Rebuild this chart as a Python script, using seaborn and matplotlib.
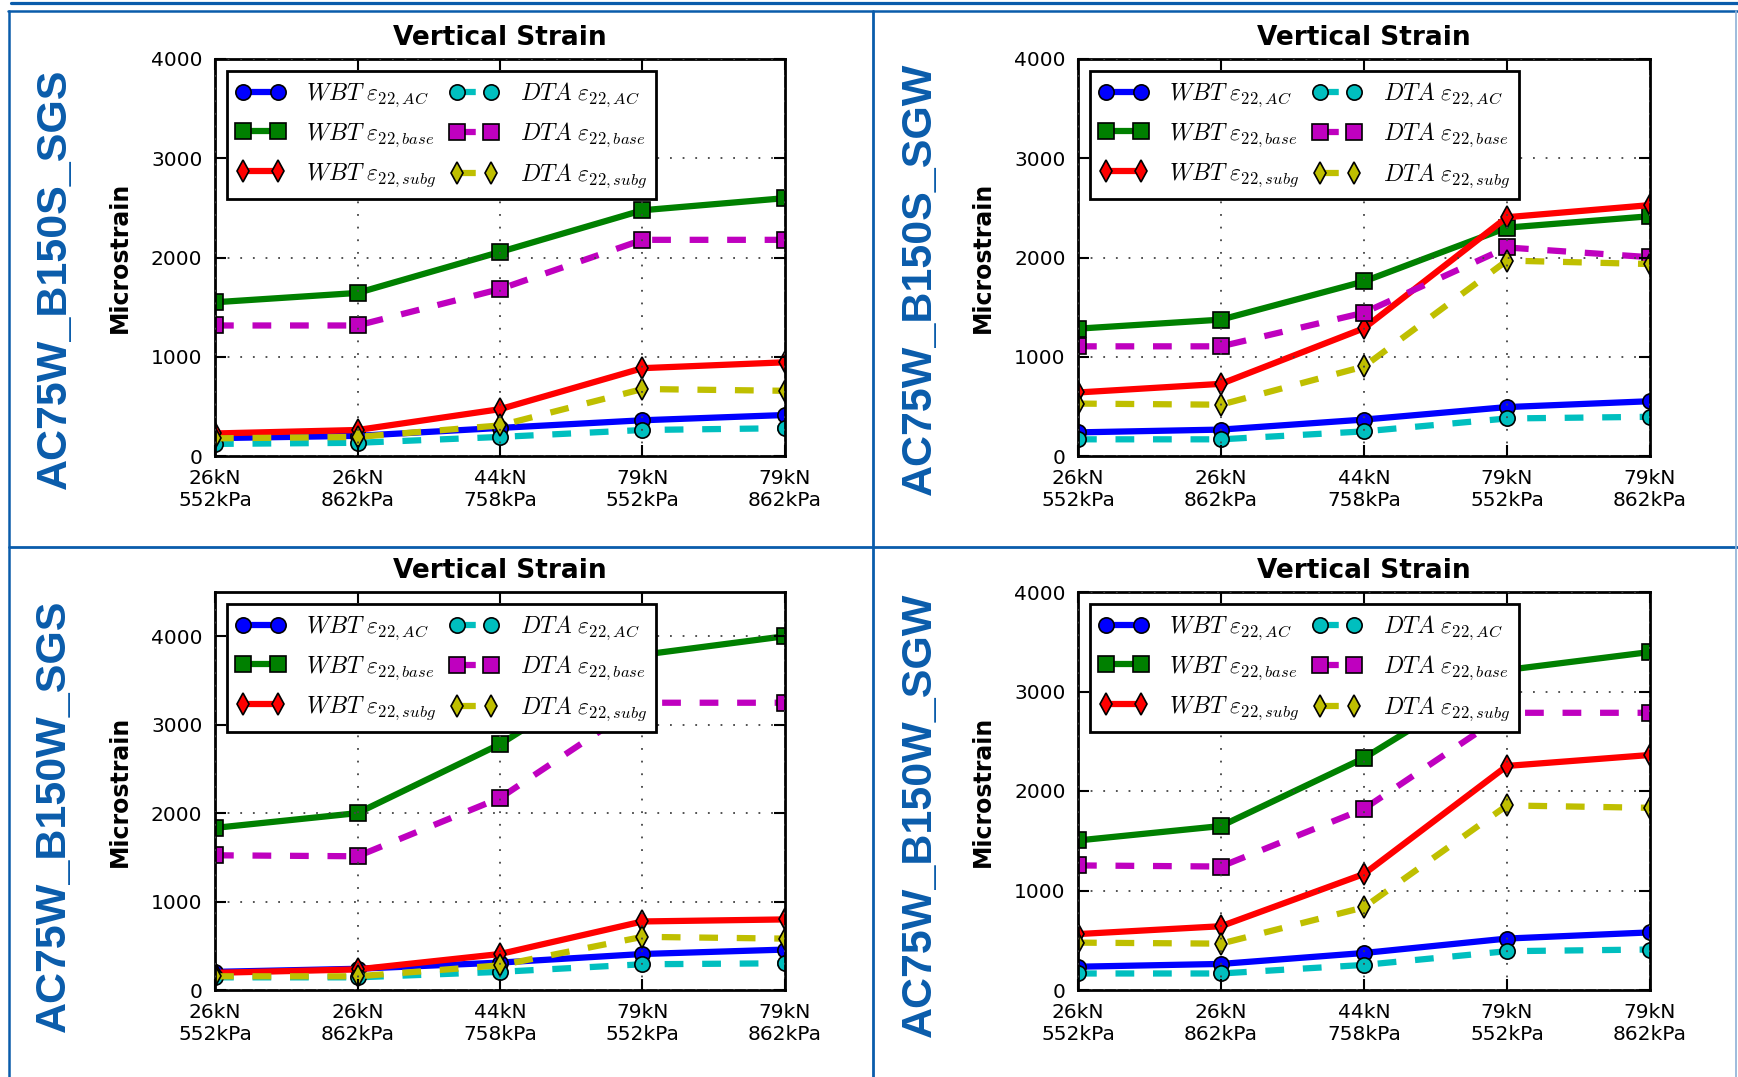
import numpy as np
import pandas as pd
import seaborn as sns
import matplotlib.pyplot as plt
from matplotlib.lines import Line2D

sns.set_style("ticks")
plt.rcParams['font.family'] = ['DejaVu Sans']
plt.rcParams['mathtext.fontset'] = 'cm'
plt.rcParams['text.color'] = 'black'
plt.rcParams['axes.labelcolor'] = 'black'
plt.rcParams['xtick.color'] = 'black'
plt.rcParams['ytick.color'] = 'black'

# load cases on the x axis
loads = ["26kN\n552kPa", "26kN\n862kPa", "44kN\n758kPa", "79kN\n552kPa", "79kN\n862kPa"]

# AC75W_B150S_SGS
s150_sgs_wbt_ac = [180, 203, 283, 360, 413]
s150_sgs_wbt_base = [1549, 1643, 2056, 2476, 2598]
s150_sgs_wbt_subg = [227, 262, 472, 885, 944]
s150_sgs_dta_ac = [122, 133, 192, 262, 280]
s150_sgs_dta_base = [1315, 1315, 1682, 2178, 2178]
s150_sgs_dta_subg = [178, 192, 308, 675, 657]

# AC75W_B150S_SGW
s150_sgw_wbt_ac = [238, 266, 367, 493, 552]
s150_sgw_wbt_base = [1283, 1374, 1759, 2301, 2416]
s150_sgw_wbt_subg = [640, 727, 1287, 2406, 2528]
s150_sgw_dta_ac = [168, 168, 248, 378, 395]
s150_sgw_dta_base = [1105, 1105, 1444, 2101, 2003]
s150_sgw_dta_subg = [528, 517, 902, 1969, 1934]

# AC75W_B150W_SGS
w150_sgs_wbt_ac = [205, 240, 310, 407, 457]
w150_sgs_wbt_base = [1833, 2000, 2779, 3790, 4000]
w150_sgs_wbt_subg = [194, 233, 407, 775, 798]
w150_sgs_dta_ac = [143, 143, 205, 291, 302]
w150_sgs_dta_base = [1523, 1512, 2171, 3248, 3248]
w150_sgs_dta_subg = [155, 155, 279, 601, 581]

# AC75W_B150W_SGW
w150_sgw_wbt_ac = [234, 262, 372, 517, 579]
w150_sgw_wbt_base = [1503, 1648, 2331, 3217, 3397]
w150_sgw_wbt_subg = [562, 641, 1166, 2252, 2362]
w150_sgw_dta_ac = [166, 166, 252, 390, 407]
w150_sgw_dta_base = [1252, 1241, 1821, 2786, 2786]
w150_sgw_dta_subg = [476, 466, 831, 1855, 1831]

labels = [r'$WBT\ \varepsilon_{22,AC}$', r'$WBT\ \varepsilon_{22,base}$', r'$WBT\ \varepsilon_{22,subg}$',
          r'$DTA\ \varepsilon_{22,AC}$', r'$DTA\ \varepsilon_{22,base}$', r'$DTA\ \varepsilon_{22,subg}$']
colors = ['b', 'g', 'r', 'c', 'm', 'y']
markers = ['o', 's', 'd', 'o', 's', 'd']
styles = ['-', '-', '-', (0, (3.0, 3.0)), (0, (3.0, 3.0)), (0, (3.0, 3.0))]

panels = [
    ("AC75W_B150S_SGS", [s150_sgs_wbt_ac, s150_sgs_wbt_base, s150_sgs_wbt_subg,
                         s150_sgs_dta_ac, s150_sgs_dta_base, s150_sgs_dta_subg], 4000),
    ("AC75W_B150S_SGW", [s150_sgw_wbt_ac, s150_sgw_wbt_base, s150_sgw_wbt_subg,
                         s150_sgw_dta_ac, s150_sgw_dta_base, s150_sgw_dta_subg], 4000),
    ("AC75W_B150W_SGS", [w150_sgs_wbt_ac, w150_sgs_wbt_base, w150_sgs_wbt_subg,
                         w150_sgs_dta_ac, w150_sgs_dta_base, w150_sgs_dta_subg], 4500),
    ("AC75W_B150W_SGW", [w150_sgw_wbt_ac, w150_sgw_wbt_base, w150_sgw_wbt_subg,
                         w150_sgw_dta_ac, w150_sgw_dta_base, w150_sgw_dta_subg], 4000),
]

W, H = 1738, 1077
fig = plt.figure(figsize=(W / 100, H / 100), dpi=100)

# axes boxes in pixels: left, top, right, bottom
boxes = [(215, 59, 785, 456), (1078, 59, 1650, 456), (215, 592, 785, 990), (1078, 592, 1650, 990)]
side_pos = [(55, 279), (920, 279), (54, 816), (920, 815)]
blue = '#0A5CAB'

x = np.arange(len(loads))
for (name, series, ymax), (l, t, r, b), (sx, sy) in zip(panels, boxes, side_pos):
    ax = fig.add_axes([l / W, 1 - b / H, (r - l) / W, (b - t) / H])
    for vals, lab, c, m, ls in zip(series, labels, colors, markers, styles):
        df = pd.DataFrame({"load": x, "strain": vals})
        sns.lineplot(data=df, x="load", y="strain", ax=ax, color=c, marker=m, linestyle=ls,
                     linewidth=4.5, markersize=11, markeredgecolor='k', markeredgewidth=1.2,
                     label=lab)
    ax.set_xlim(0, 4)
    ax.set_ylim(0, ymax)
    ax.set_xticks(x)
    ax.set_xticklabels(loads)
    ax.set_yticks([0, 1000, 2000, 3000, 4000])
    ax.set_xlabel('')
    ax.set_ylabel('Microstrain', fontsize=17, fontweight='bold', color='k')
    ax.yaxis.set_label_coords(-0.146, 0.5)
    ax.set_title('Vertical Strain', fontsize=19, fontweight='bold', pad=10, color='k')
    ax.tick_params(direction='in', top=True, right=True, length=8, width=1.5,
                   labelsize=14.5, colors='k')
    ax.tick_params(axis='y', pad=9)
    ax.tick_params(axis='x', pad=9)
    for sp in ax.spines.values():
        sp.set_linewidth(2)
        sp.set_color('k')
    ax.grid(True, color='#444444', linestyle=(0, (1, 6)), linewidth=1.3)
    ax.set_axisbelow(False)
    leg = ax.legend(loc='upper left', ncol=2, numpoints=2, fontsize=17, handlelength=2.05,
                    handletextpad=0.9, columnspacing=0.6, borderpad=0.4, labelspacing=0.5,
                    borderaxespad=0.5, fancybox=False, framealpha=1, edgecolor='k')
    leg.get_frame().set_linewidth(2)
    for txt in leg.get_texts():
        txt.set_color('k')
    fig.text(sx / W, 1 - sy / H, name, rotation=90, ha='center', va='center', color=blue,
             fontsize=31, fontweight='bold', family='Liberation Sans')


def hline(y, x0, x1, lw, color=blue):
    fig.add_artist(Line2D([x0 / W, x1 / W], [1 - y / H, 1 - y / H], transform=fig.transFigure,
                          color=color, linewidth=lw))


def vline(x0, y0, y1, lw, color=blue):
    fig.add_artist(Line2D([x0 / W, x0 / W], [1 - y0 / H, 1 - y1 / H], transform=fig.transFigure,
                          color=color, linewidth=lw))


# blue frame around the four panels
hline(3, 11, W, 2.3)
hline(11, 8, W, 1.8)
vline(9, 11, H, 1.8)
vline(873, 11, H, 2.0)
hline(546.5, 9, W, 2.0)
vline(1736, 11, H, 1.2, color='#8DB0D6')

fig.savefig('out.png', dpi=100)
